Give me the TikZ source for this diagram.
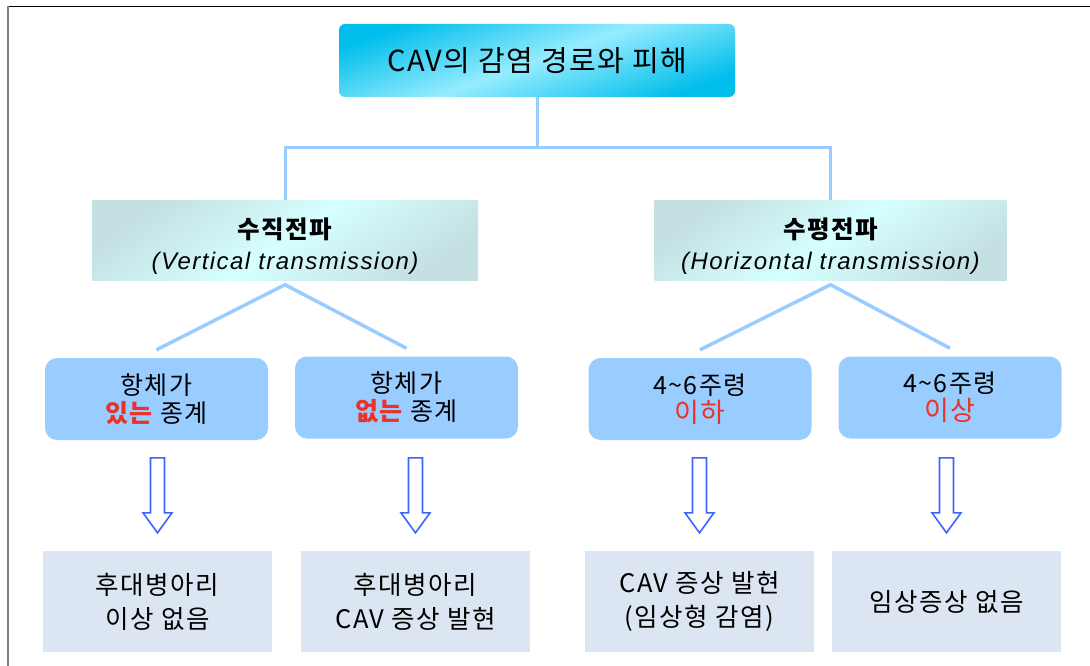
\documentclass[tikz,border=0pt]{standalone}
\usepackage{fontspec}
\setmainfont{Noto Sans CJK KR}
\newfontfamily\krfont{Noto Sans CJK KR}[LetterSpace=6]
\newfontfamily\titfont{Noto Sans CJK KR}[LetterSpace=5]
\newfontfamily\itfont{Liberation Sans}[LetterSpace=6]
\usetikzlibrary{calc}
\definecolor{cdark}{RGB}{0,190,235}
\definecolor{clight}{RGB}{150,236,255}
\definecolor{mdark}{RGB}{196,224,226}
\definecolor{mlight}{RGB}{214,255,255}
\definecolor{linec}{RGB}{153,204,255}
\definecolor{boxc}{RGB}{153,204,255}
\definecolor{botc}{RGB}{220,230,242}
\definecolor{redc}{RGB}{235,50,40}
\definecolor{arrc}{RGB}{60,100,255}
\definecolor{framegray}{RGB}{128,128,128}
\tikzset{
  titlebox/.style={rounded corners=6pt, top color=cdark, bottom color=cdark, middle color=clight,
    shading angle=20, minimum width=396pt, minimum height=73pt, inner sep=0pt,
    font=\titfont\fontsize{29}{32}\selectfont},
  midbox/.style={top color=mdark, bottom color=mdark, middle color=mlight, shading angle=35,
    minimum height=80pt, inner sep=0pt},
  midtext/.style={align=center, inner sep=0pt, yshift=-6pt,
    font=\krfont\fontsize{24.5}{31}\selectfont},
  bluebox/.style={rounded corners=12pt, fill=boxc, minimum width=223pt, minimum height=82pt,
    inner sep=0pt, align=center, font=\krfont\fontsize{25}{28}\selectfont},
  botbox/.style={fill=botc, minimum width=229pt, minimum height=101pt, inner sep=0pt,
    align=center, font=\krfont\fontsize{25.5}{34}\selectfont},
  conn/.style={draw=linec, line width=3pt},
  harr/.style={draw=arrc, line width=1.6pt, fill=white, line join=miter}
}
\newcommand{\rd}[1]{{\color{redc}#1}}
\begin{document}
\begin{tikzpicture}[x=1pt,y=-1pt]
\useasboundingbox (0,0) rectangle (1090,666);
% frame
\draw[black, line width=1.5pt] (7,6.5) -- (1090,6.5);
\draw[framegray, line width=2pt] (7.5,6) -- (7.5,666);

% title
\node[titlebox] (title) at (537,60.5) {CAV의 감염 경로와 피해};

% second level
\node[midbox, minimum width=386pt,
  label={[midtext]center:{\bfseries 수직전파}\\{\itfont\itshape\fontsize{24}{31}\selectfont (Vertical transmission)}}]
  (v) at (285,240.5) {};
\node[midbox, minimum width=352pt,
  label={[midtext]center:{\bfseries 수평전파}\\{\itfont\itshape\fontsize{24}{31}\selectfont (Horizontal transmission)}}]
  (h) at (830.5,240.5) {};

% third level
\node[bluebox] (b1) at (156.5,399) {항체가\\{\bfseries\rd{있는}} 종계};
\node[bluebox] (b2) at (406.5,397.5) {항체가\\{\bfseries\rd{없는}} 종계};
\node[bluebox] (b3) at (700,399) {4\textasciitilde 6주령\\{\fontsize{27}{28}\selectfont\rd{이하}}};
\node[bluebox] (b4) at (950,397.5) {4\textasciitilde 6주령\\{\fontsize{27}{28}\selectfont\rd{이상}}};

% bottom level
\node[botbox] (o1) at (157.5,601.5) {후대병아리\\이상 없음};
\node[botbox] (o2) at (415.5,601.5) {후대병아리\\CAV 증상 발현};
\node[botbox] (o3) at (699.5,601.5) {CAV 증상 발현\\(임상형 감염)};
\node[botbox] (o4) at (946.5,601.5) {임상증상 없음};

% connectors top
\coordinate (hb) at (537,148);
\draw[conn] (title.south) -- (title.south |- hb);
\draw[conn, line cap=rect] (v.north |- hb) -- (h.north |- hb);
\draw[conn] (v.north |- hb) -- (v.north);
\draw[conn] (h.north |- hb) -- (h.north);

% fan connectors
\coordinate (va) at ($(v.south)+(0,4)$);
\coordinate (ha) at ($(h.south)+(0,4)$);
\draw[conn, line width=3.5pt, line join=miter] ($(b1.north)+(0,-8)$) -- (va) -- ($(b2.north)+(0,-8)$);
\draw[conn, line width=3.5pt, line join=miter] ($(b3.north)+(0,-8)$) -- (ha) -- ($(b4.north)+(0,-8)$);

% hollow arrows
\foreach \o in {o1,o2,o3,o4}{
  \draw[harr] ($(\o.north)+(0,-18)$) -- ++(-14.5,-20) -- ++(7.5,0) -- ++(0,-55) -- ++(14,0)
     -- ++(0,55) -- ++(7.5,0) -- cycle;
}
\end{tikzpicture}
\end{document}
